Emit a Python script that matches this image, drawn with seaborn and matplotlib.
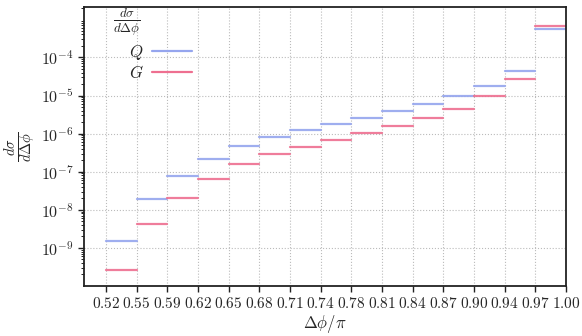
import numpy as np
import pandas as pd
import seaborn as sns
import matplotlib.pyplot as plt

# bin edges (x in units of pi) and the labels printed on them
edges = np.linspace(0.52, 1.00, 16)
edge_labels = ["0.52", "0.55", "0.59", "0.62", "0.65", "0.68", "0.71", "0.74",
               "0.78", "0.81", "0.84", "0.87", "0.90", "0.94", "0.97", "1.00"]

# dsigma / dDelta phi per bin
q_values = [1.53e-9, 1.91e-8, 7.69e-8, 2.15e-7, 4.64e-7, 8.14e-7, 1.22e-6, 1.79e-6,
            2.62e-6, 3.86e-6, 5.89e-6, 9.73e-6, 1.78e-5, 4.34e-5, 5.51e-4]
g_values = [2.6e-10, 4.13e-9, 2.07e-8, 6.41e-8, 1.56e-7, 2.96e-7, 4.53e-7, 6.79e-7,
            1.02e-6, 1.56e-6, 2.52e-6, 4.51e-6, 9.55e-6, 2.72e-5, 6.61e-4]

sns.set_style("white")
plt.rcParams["font.family"] = "serif"
plt.rcParams["font.serif"] = ["cmr10"]
plt.rcParams["mathtext.fontset"] = "cm"
plt.rcParams["axes.formatter.use_mathtext"] = True
plt.rcParams["axes.unicode_minus"] = False

# long table: one row per segment end, one unit per bin
rows = []
for name, vals in [("Q", q_values), ("G", g_values)]:
    for i, v in enumerate(vals):
        rows.append({"series": name, "bin": i, "x": edges[i], "y": v})
        rows.append({"series": name, "bin": i, "x": edges[i + 1], "y": v})
df = pd.DataFrame(rows)

palette = {"Q": "#95a5ee", "G": "#ee6f90"}

fig = plt.figure(figsize=(5.82, 3.36), dpi=100)
ax = fig.add_axes([0.1443, 0.149, 0.8282, 0.830])

sns.lineplot(data=df, x="x", y="y", hue="series", units="bin", estimator=None,
             palette=palette, linewidth=1.6, alpha=0.9, ax=ax, legend=False)

ax.set_yscale("log")
ax.set_ylim(1e-10, 2.1e-3)
ax.set_xlim(0.497, 1.0)
ax.set_xticks(edges)
ax.set_xticklabels([f"${s}$" for s in edge_labels], fontsize=11)
ax.tick_params(axis="y", labelsize=11.5)
ax.set_yticks([1e-9, 1e-8, 1e-7, 1e-6, 1e-5, 1e-4])

ax.tick_params(which="major", direction="out", length=4, width=1, left=True, bottom=True,
               color="#222222")
ax.tick_params(which="minor", direction="out", length=2, width=0.7, left=True,
               color="#222222")
ax.grid(True, which="major", linestyle=":", color="#bbbbbb", linewidth=0.8)

for s in ax.spines.values():
    s.set_color("#222222")
    s.set_linewidth(1.3)

ax.set_xlabel(r"$\Delta\phi/\pi$", fontsize=12, labelpad=1)
ax.set_ylabel(r"$\frac{d\sigma}{d\Delta\phi}$", fontsize=15, labelpad=2)

# legend title drawn as its own text, entries with label before the line
ax.text(0.060, 0.945, r"$\frac{d\sigma}{d\Delta\phi}$", transform=ax.transAxes,
        ha="left", va="center", fontsize=13.5)
handles = [plt.Line2D([], [], color=palette["Q"], lw=1.6),
           plt.Line2D([], [], color=palette["G"], lw=1.6)]
ax.legend(handles, ["$Q$", "$G$"], loc="upper left", bbox_to_anchor=(0.093, 0.872),
          frameon=False, markerfirst=False, fontsize=12, handlelength=2.4,
          handletextpad=0.5, labelspacing=0.15, borderpad=0, borderaxespad=0)

fig.savefig("out.png", dpi=100)
